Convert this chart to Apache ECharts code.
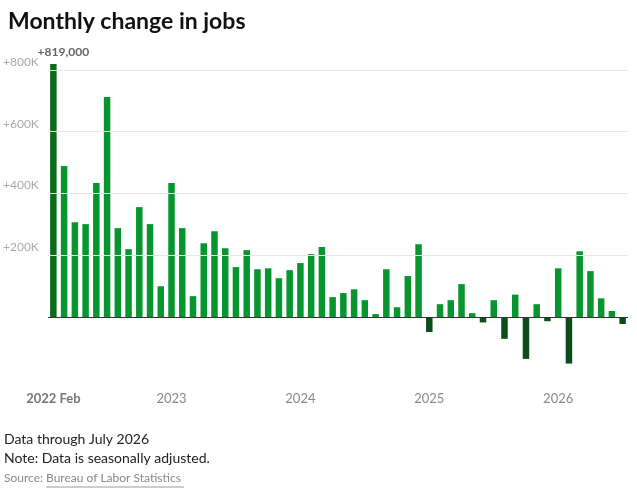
<!DOCTYPE html>
<html>
<head>
<meta charset="utf-8">
<script src="https://cdn.jsdelivr.net/npm/echarts@6/dist/echarts.min.js"></script>
<style>html,body{margin:0;padding:0;background:#fff}#chart{width:637px;height:493px}</style>
</head>
<body>
<div id="chart"></div>
<script>
var months = [];
var yearLabels = {0: '2022 Feb', 11: '2023', 23: '2024', 35: '2025', 47: '2026'};
var jobs = [819, 489, 307, 301, 434, 712, 288, 220, 356, 301, 100,
    434, 288, 68, 239, 278, 223, 162, 217, 155, 158, 126, 152,
    175, 204, 227, 65, 78, 90, 55, 10, 155, 32, 133, 236,
    -48, 42, 55, 107, 13, -17, 55, -70, 73, -135, 42, -13,
    158, -150, 213, 149, 61, 20, -22];
var gridValues = [200, 400, 600, 800];
for (var i = 0; i < jobs.length; i++) {
    var d = new Date(2022, 1 + i, 1);
    months.push(d.getFullYear() + '-' + (d.getMonth() + 1));
}

var chart = echarts.init(document.getElementById('chart'));
var option = {
    animation: false,
    title: {
        text: 'Monthly change in jobs',
        left: 3, top: 5,
        textStyle: {fontFamily: 'Lato', fontSize: 23, fontWeight: 'bold', color: '#111'}
    },
    grid: {left: 48, right: 9, top: 64, bottom: 114},
    xAxis: {
        type: 'category',
        data: months,
        axisLine: {show: false},
        axisTick: {show: false},
        axisLabel: {
            interval: function (idx) { return yearLabels[idx] !== undefined; },
            formatter: function (v, idx) {
                return idx === 0 ? '{b|2022 Feb}' : (yearLabels[idx] || '');
            },
            margin: 13,
            fontFamily: 'Lato', fontSize: 13, color: '#888',
            rich: {b: {fontFamily: 'Lato', fontSize: 13, fontWeight: 'bold', color: '#777'}}
        }
    },
    yAxis: {
        type: 'value',
        min: -200, max: 819, interval: 200,
        splitLine: {show: false},
        axisLabel: {
            showMaxLabel: false,
            formatter: function (v) { return v > 0 ? '+' + v + 'K' : ''; },
            align: 'left', verticalAlign: 'bottom',
            margin: 45, padding: [0, 0, 2, 0],
            fontFamily: 'Lato', fontSize: 12, color: '#aaa'
        }
    },
    series: [{
        type: 'bar',
        barWidth: 6.5,
        data: jobs.map(function (v, i) {
            return {
                value: v,
                itemStyle: {color: i === 0 ? '#0a6b18' : (v < 0 ? '#0b4d1a' : '#07952f')},
                label: i === 0 ? {show: true, position: 'top', distance: 6, formatter: '+819,000',
                    fontFamily: 'Lato', fontWeight: 'bold', fontSize: 12, color: '#666', offset: [10, 0]} : {show: false}
            };
        }),
        markLine: {
            silent: true, symbol: 'none', label: {show: false},
            data: gridValues.map(function (v) {
                return {yAxis: v, lineStyle: {color: '#e6e6e6', type: 'solid', width: 1}};
            }).concat([{yAxis: 0, lineStyle: {color: '#333', type: 'solid', width: 1}}])
        },
        z: 3
    }],
    graphic: [
        {type: 'text', left: 4, top: 432, style: {text: 'Data through July 2026', fontFamily: 'Lato', fontSize: 14, fill: '#222'}},
        {type: 'text', left: 4, top: 451, style: {text: 'Note: Data is seasonally adjusted.', fontFamily: 'Lato', fontSize: 14, fill: '#222'}},
        {type: 'text', left: 4, top: 472, style: {text: 'Source: ', fontFamily: 'Lato', fontSize: 12, fill: '#888'}},
        {type: 'text', left: 46, top: 472, style: {text: 'Bureau of Labor Statistics', fontFamily: 'Lato', fontSize: 12, fill: '#888'}},
        {type: 'line', shape: {x1: 46, y1: 487, x2: 184, y2: 487}, style: {stroke: '#999', lineWidth: 1}}
    ]
};
chart.setOption(option);
</script>
</body>
</html>
